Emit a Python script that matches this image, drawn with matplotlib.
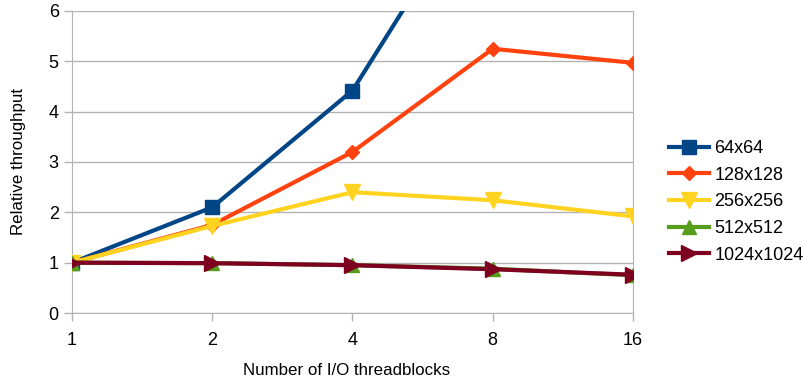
import matplotlib
matplotlib.use("Agg")
import matplotlib.pyplot as plt

plt.rcParams['font.family'] = ['Liberation Sans', 'DejaVu Sans']

threadblocks = ['1', '2', '4', '8', '16']
sizes = ['64x64', '128x128', '256x256', '512x512', '1024x1024']
tp_64 = [1.0, 2.1, 4.42, 8.85, 10.5]
tp_128 = [1.0, 1.75, 3.2, 5.25, 4.97]
tp_256 = [1.0, 1.73, 2.4, 2.24, 1.92]
tp_512 = [1.0, 0.99, 0.95, 0.88, 0.75]
tp_1024 = [1.0, 0.99, 0.95, 0.87, 0.76]

series = [tp_64, tp_128, tp_256, tp_512, tp_1024]
colors = ['#004586', '#ff420e', '#ffd320', '#579d1c', '#7e0021']
markers = ['s', 'D', 'v', '^', '>']
msizes = [10, 7, 11, 10, 11]

fig = plt.figure(figsize=(8.04, 3.83), dpi=100)
ax = fig.add_axes([72 / 804, 70 / 383, 561 / 804, 302 / 383])

x = range(len(threadblocks))
handles = []
for vals, name, c, m, ms in zip(series, sizes, colors, markers, msizes):
    ln, = ax.plot(x, vals, color=c, lw=3, marker=m, ms=ms, mec=c, label=name,
                  clip_on=True, zorder=3)
    handles.append(ln)

ax.set_xlim(0, len(threadblocks) - 1)
ax.set_ylim(0, 6)
ax.set_xticks(list(x))
ax.set_xticklabels(threadblocks)
ax.set_yticks(range(7))
ax.yaxis.grid(True, color='#b3b3b3', lw=1)
ax.set_axisbelow(True)
for s in ax.spines.values():
    s.set_color('#b3b3b3')
ax.spines['top'].set_visible(False)
ax.tick_params(colors='#b3b3b3', labelcolor='black', labelsize=13, length=6, width=1)
ax.tick_params(axis='x', pad=8)

ax.set_xlabel('Number of I/O threadblocks', fontsize=12.2, labelpad=9)
ax.xaxis.set_label_coords(0.49, -0.165)
ax.set_ylabel('Relative throughput', fontsize=12.2, labelpad=16)

fig.legend(handles=handles, loc='upper left', bbox_to_anchor=(662 / 804, 1 - 133 / 383),
           frameon=False, fontsize=13, handlelength=2.2, handletextpad=0.3,
           labelspacing=0.53, borderaxespad=0)

fig.savefig('out.png', dpi=100)
